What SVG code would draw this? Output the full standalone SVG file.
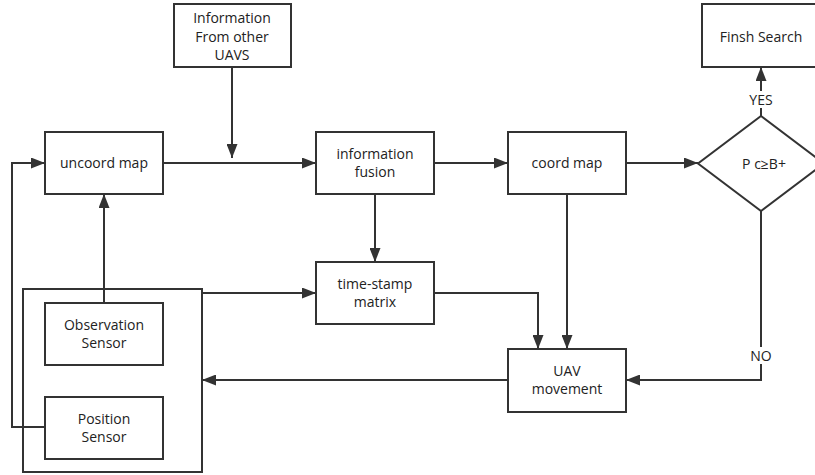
<svg xmlns="http://www.w3.org/2000/svg" width="815" height="475" viewBox="0 0 815 475">
  <style>
    .box { fill: #ffffff; stroke: #333333; stroke-width: 2; }
    .frame { fill: none; stroke: #333333; stroke-width: 2; }
    .edge { fill: none; stroke: #333333; stroke-width: 2; }
    text { font-family: "Open Sans", "Noto Sans", sans-serif; font-size: 14px; fill: #222222; text-anchor: middle; }
    .lbl { fill: #ffffff; stroke: none; }
  </style>
  <defs>
    <marker id="arrow" viewBox="0 0 14 11" refX="14" refY="5.5" markerWidth="14" markerHeight="11" markerUnits="userSpaceOnUse" orient="auto">
      <path d="M0,0 L14,5.5 L0,11 Z" fill="#333333"/>
    </marker>
  </defs>

  <rect width="815" height="475" fill="#ffffff"/>

  <g id="connectors">
    <!-- external info joins the main line -->
    <line class="edge" x1="232" y1="67" x2="232" y2="158" marker-end="url(#arrow)"/>
    <line class="edge" x1="163" y1="163" x2="316" y2="163" marker-end="url(#arrow)"/>
    <line class="edge" x1="434" y1="163" x2="508" y2="163" marker-end="url(#arrow)"/>
    <line class="edge" x1="626" y1="163" x2="698" y2="163" marker-end="url(#arrow)"/>
    <!-- YES branch -->
    <line class="edge" x1="761" y1="116" x2="761" y2="67" marker-end="url(#arrow)"/>
    <!-- NO branch -->
    <polyline class="edge" points="761,211 761,380 626,380" marker-end="url(#arrow)"/>
    <!-- fusion to time-stamp matrix -->
    <line class="edge" x1="375" y1="194" x2="375" y2="262" marker-end="url(#arrow)"/>
    <!-- coord map to UAV movement -->
    <line class="edge" x1="567" y1="194" x2="567" y2="349" marker-end="url(#arrow)"/>
    <!-- time-stamp matrix to UAV movement -->
    <polyline class="edge" points="434,293 538,293 538,349" marker-end="url(#arrow)"/>
    <!-- sensor frame to time-stamp matrix -->
    <line class="edge" x1="202" y1="293" x2="316" y2="293" marker-end="url(#arrow)"/>
    <!-- UAV movement back to sensors -->
    <line class="edge" x1="508" y1="380" x2="202" y2="380" marker-end="url(#arrow)"/>
    <!-- observation sensor to uncoord map -->
    <line class="edge" x1="104" y1="303" x2="104" y2="194" marker-end="url(#arrow)"/>
    <!-- position sensor loop to uncoord map -->
    <polyline class="edge" points="45,427 12,427 12,163 45,163" marker-end="url(#arrow)"/>
  </g>

  <g id="sensor-frame">
    <rect class="frame" x="23" y="289" width="179" height="183"/>
  </g>

  <g id="uncoord-map">
    <rect class="box" x="45" y="132" width="118" height="62"/>
    <text x="104" y="168">uncoord map</text>
  </g>

  <g id="other-uavs">
    <rect class="box" x="174" y="4" width="117" height="63"/>
    <text x="232" y="23">Information</text>
    <text x="232" y="41.5">From other</text>
    <text x="232" y="60">UAVS</text>
  </g>

  <g id="information-fusion">
    <rect class="box" x="316" y="132" width="118" height="62"/>
    <text x="375" y="158.5">information</text>
    <text x="375" y="177">fusion</text>
  </g>

  <g id="coord-map">
    <rect class="box" x="508" y="132" width="118" height="62"/>
    <text x="567" y="168">coord map</text>
  </g>

  <g id="decision">
    <polygon class="box" points="761,116 824,163.5 761,211 698,163.5"/>
    <text x="764" y="168.5">P c≥B+</text>
  </g>

  <g id="finish-search">
    <rect class="box" x="702" y="4" width="118" height="63"/>
    <text x="761" y="41.5">Finsh Search</text>
  </g>

  <g id="yes-label">
    <rect class="lbl" x="745" y="91" width="32" height="17"/>
    <text x="761" y="105">YES</text>
  </g>

  <g id="no-label">
    <rect class="lbl" x="747" y="347" width="30" height="17"/>
    <text x="761" y="361">NO</text>
  </g>

  <g id="time-stamp-matrix">
    <rect class="box" x="316" y="262" width="118" height="62"/>
    <text x="375" y="288.5">time-stamp</text>
    <text x="375" y="307">matrix</text>
  </g>

  <g id="uav-movement">
    <rect class="box" x="508" y="349" width="118" height="63"/>
    <text x="567" y="375.5">UAV</text>
    <text x="567" y="394">movement</text>
  </g>

  <g id="observation-sensor">
    <rect class="box" x="45" y="303" width="118" height="62"/>
    <text x="104" y="329.5">Observation</text>
    <text x="104" y="348">Sensor</text>
  </g>

  <g id="position-sensor">
    <rect class="box" x="45" y="397" width="118" height="62"/>
    <text x="104" y="423.5">Position</text>
    <text x="104" y="442">Sensor</text>
  </g>
</svg>
